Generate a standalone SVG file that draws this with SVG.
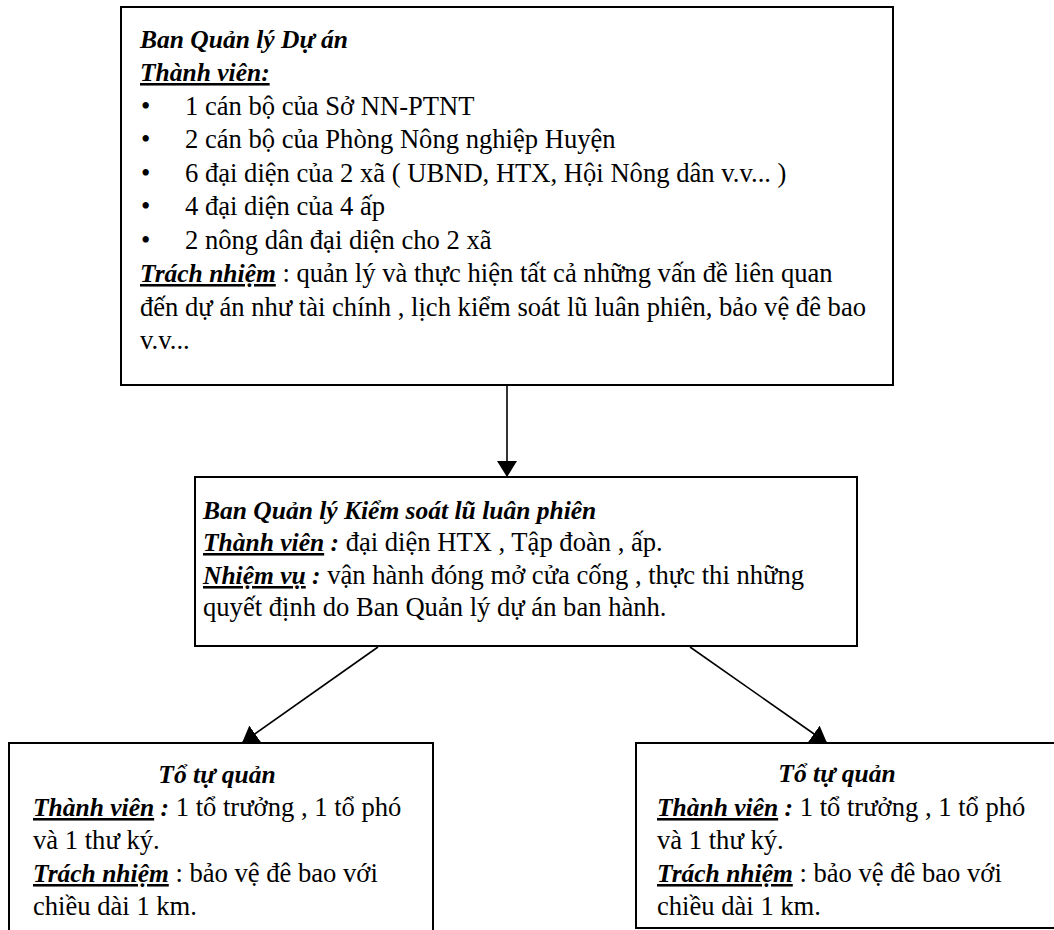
<svg xmlns="http://www.w3.org/2000/svg" width="1054" height="930" viewBox="0 0 1054 930">
<defs>
<style>
.box{fill:#fff;stroke:#000;stroke-width:2}
.t{font-family:"Liberation Serif","Times New Roman",serif;font-size:26.6px;fill:#000}
.bi{font-weight:bold;font-style:italic;font-size:25.5px}
.u{text-decoration:underline}
.c{stroke:#000;stroke-width:1.6;fill:none}
</style>
<marker id="ah" viewBox="0 0 16 20" refX="16" refY="10" markerWidth="16" markerHeight="20" markerUnits="userSpaceOnUse" orient="auto">
<path d="M0,0 L16,10 L0,20 z" fill="#000"/>
</marker>
</defs>
<rect width="1054" height="930" fill="#fff"/>

<g id="connectors">
<line class="c" x1="507" y1="385" x2="507" y2="477" marker-end="url(#ah)"/>
<line class="c" x1="378" y1="647" x2="242" y2="743" marker-end="url(#ah)"/>
<line class="c" x1="690" y1="647" x2="827" y2="743" marker-end="url(#ah)"/>
</g>

<g id="ban-quan-ly-du-an">
<rect class="box" x="121" y="7" width="772" height="378"/>
<text class="t bi" x="140" y="48">Ban Quản lý Dự án</text>
<text class="t bi u" x="140" y="81">Thành viên:</text>
<text class="t" x="141" y="115">•</text>
<text class="t" x="185" y="115">1 cán bộ của Sở NN-PTNT</text>
<text class="t" x="141" y="148">•</text>
<text class="t" x="185" y="148">2 cán bộ của Phòng Nông nghiệp Huyện</text>
<text class="t" x="141" y="182">•</text>
<text class="t" x="185" y="182">6 đại diện của  2 xã ( UBND, HTX, Hội Nông dân v.v... )</text>
<text class="t" x="141" y="215">•</text>
<text class="t" x="185" y="215">4 đại diện của 4 ấp</text>
<text class="t" x="141" y="249">•</text>
<text class="t" x="185" y="249">2 nông dân đại diện cho 2 xã</text>
<text class="t" x="140" y="282"><tspan class="bi u">Trách nhiệm</tspan> : quản lý và thực hiện tất cả những vấn đề liên quan</text>
<text class="t" x="140" y="316">đến dự án như tài chính , lịch kiểm soát lũ luân phiên, bảo vệ đê bao</text>
<text class="t" x="140" y="349">v.v...</text>
</g>

<g id="ban-quan-ly-kiem-soat-lu">
<rect class="box" x="195" y="477" width="662" height="169"/>
<text class="t bi" x="203" y="519">Ban Quản lý Kiểm soát lũ luân phiên</text>
<text class="t" x="203" y="551"><tspan class="bi u">Thành viên</tspan><tspan class="bi"> :</tspan> đại diện HTX , Tập đoàn , ấp.</text>
<text class="t" x="203" y="584"><tspan class="bi u">Nhiệm vụ</tspan><tspan class="bi"> :</tspan> vận hành đóng mở cửa cống , thực thi những</text>
<text class="t" x="203" y="616">quyết định do Ban Quản lý dự án ban hành.</text>
</g>

<g id="to-tu-quan-1">
<path class="box" d="M9,935 L9,743 L433,743 L433,935"/>
<text class="t bi" x="217" y="783" text-anchor="middle">Tổ tự quản</text>
<text class="t" x="33" y="816"><tspan class="bi u">Thành viên</tspan><tspan class="bi"> :</tspan> 1 tổ trưởng , 1 tổ phó</text>
<text class="t" x="33" y="849">và 1 thư ký.</text>
<text class="t" x="33" y="882"><tspan class="bi u">Trách nhiệm</tspan> : bảo vệ đê bao với</text>
<text class="t" x="33" y="915">chiều dài 1 km.</text>
</g>

<g id="to-tu-quan-2">
<rect class="box" x="636" y="743" width="430" height="185"/>
<text class="t bi" x="837" y="782" text-anchor="middle">Tổ tự quản</text>
<text class="t" x="657" y="816"><tspan class="bi u">Thành viên</tspan><tspan class="bi"> :</tspan> 1 tổ trưởng , 1 tổ phó</text>
<text class="t" x="657" y="849">và 1 thư ký.</text>
<text class="t" x="657" y="882"><tspan class="bi u">Trách nhiệm</tspan> : bảo vệ đê bao với</text>
<text class="t" x="657" y="915">chiều dài 1 km.</text>
</g>
</svg>
